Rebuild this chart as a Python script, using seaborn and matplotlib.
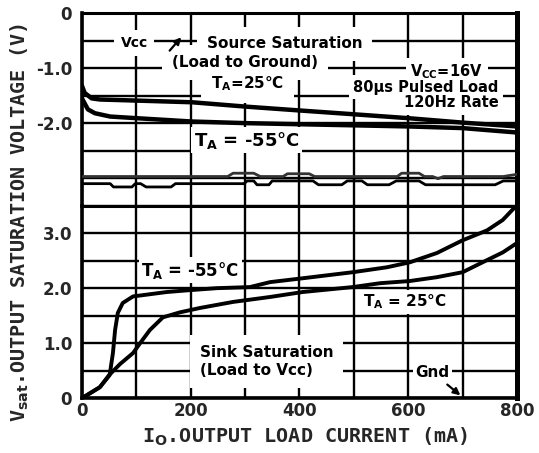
import matplotlib
matplotlib.use("Agg")
import matplotlib.pyplot as plt
import seaborn as sns
import numpy as np

# --------------------------
# data (mA, V)
# --------------------------
# source saturation (load to ground), referenced to Vcc
src_25_ma = [0, 5, 18, 33, 101, 202, 302, 401, 502, 601, 700, 800]
src_25_v = [-1.32, -1.45, -1.55, -1.57, -1.59, -1.62, -1.70, -1.77, -1.84, -1.91, -1.99, -2.06]

src_m55_ma = [0, 11, 24, 52, 101, 202, 302, 401, 502, 601, 700, 800]
src_m55_v = [-1.55, -1.75, -1.82, -1.88, -1.91, -1.97, -2.00, -2.02, -2.04, -2.06, -2.09, -2.17]

# Vcc reference traces
vcc_a_ma = [0, 268, 278, 316, 328, 370, 378, 418, 428, 580, 588, 620, 630, 645, 655, 665, 675, 775, 800]
vcc_a_v = [-2.97, -2.97, -2.91, -2.91, -2.97, -2.97, -2.92, -2.92, -2.97, -2.97, -2.91, -2.91,
           -2.97, -2.97, -3.01, -2.97, -2.97, -2.97, -2.93]

vcc_b_ma = [0, 52, 58, 92, 98, 108, 118, 164, 172, 298, 304, 316, 322, 344, 350, 425, 435,
            478, 488, 515, 525, 565, 578, 620, 632, 760, 775, 800]
vcc_b_v = [-3.10, -3.10, -3.16, -3.16, -3.10, -3.10, -3.16, -3.16, -3.10, -3.10, -3.05, -3.05,
           -3.12, -3.12, -3.05, -3.05, -3.12, -3.12, -3.05, -3.05, -3.12, -3.12, -3.05, -3.05,
           -3.12, -3.12, -3.05, -3.05]

# sink saturation (load to Vcc)
snk_m55_ma = [0, 33, 51, 57, 61, 66, 75, 94, 125, 156, 193, 248, 309, 346, 406, 498, 561, 603,
              653, 700, 745, 774, 800]
snk_m55_v = [0, 0.2, 0.42, 0.82, 1.24, 1.55, 1.73, 1.85, 1.89, 1.93, 1.96, 2.0, 2.02, 2.11,
             2.18, 2.29, 2.38, 2.47, 2.64, 2.87, 3.05, 3.24, 3.51]

snk_25_ma = [0, 33, 50, 70, 94, 107, 125, 149, 180, 217, 278, 346, 406, 498, 548, 603, 653,
             700, 745, 774, 800]
snk_25_v = [0, 0.2, 0.42, 0.62, 0.82, 1.0, 1.24, 1.47, 1.56, 1.64, 1.75, 1.84, 1.93, 2.02,
            2.09, 2.13, 2.2, 2.29, 2.51, 2.65, 2.82]

x_ticks = [0, 100, 200, 300, 400, 500, 600, 700, 800]
x_labels = ["0", "", "200", "", "400", "", "600", "", "800"]
top_ticks = [-3.5, -3.0, -2.5, -2.0, -1.5, -1.0, -0.5, 0]
top_labels = ["", "", "", "-2.0", "", "-1.0", "", "0"]
bot_ticks = [0, 0.5, 1.0, 1.5, 2.0, 2.5, 3.0, 3.5]
bot_labels = ["0", "", "1.0", "", "2.0", "", "3.0", ""]

# --------------------------
# style
# --------------------------
sns.set_style("white")
plt.rcParams["font.family"] = ["DejaVu Sans"]
plt.rcParams["font.weight"] = "bold"
plt.rcParams["mathtext.default"] = "bf"

fig = plt.figure(figsize=(5.39, 4.53), dpi=100)
gs = fig.add_gridspec(2, 1, left=0.152, right=0.959, top=0.971, bottom=0.121, hspace=0)
ax_top = fig.add_subplot(gs[0])
ax_bot = fig.add_subplot(gs[1])

for ax in (ax_top, ax_bot):
    ax.set_xlim(0, 800)
    ax.set_xticks(x_ticks)
    ax.grid(True, color="black", lw=1.7)
    ax.set_axisbelow(True)
    ax.tick_params(length=0, labelsize=12, pad=7)
    for s in ax.spines.values():
        s.set_color("black")
    ax.spines["left"].set_linewidth(2.6)
    ax.spines["right"].set_linewidth(3.6)
    ax.spines["top"].set_linewidth(2.2)
    ax.spines["bottom"].set_linewidth(2.6)
    ax.set_xlabel("")
    ax.set_ylabel("")

ax_top.set_ylim(-3.5, 0)
ax_top.set_yticks(top_ticks)
ax_top.set_yticklabels(top_labels)
ax_top.set_xticklabels([])
ax_top.spines["bottom"].set_visible(False)

ax_bot.set_ylim(0, 3.5)
ax_bot.set_yticks(bot_ticks)
ax_bot.set_yticklabels(bot_labels)
ax_bot.set_xticklabels(x_labels)
ax_bot.tick_params(axis="x", pad=3)

# --------------------------
# curves
# --------------------------
sns.lineplot(x=src_25_ma, y=src_25_v, ax=ax_top, color="black", lw=3.2, zorder=5)
sns.lineplot(x=src_m55_ma, y=src_m55_v, ax=ax_top, color="black", lw=3.2, zorder=5)
sns.lineplot(x=vcc_a_ma, y=vcc_a_v, ax=ax_top, color="#333333", lw=2.0, zorder=5)
sns.lineplot(x=vcc_b_ma, y=vcc_b_v, ax=ax_top, color="black", lw=2.0, zorder=5)

sns.lineplot(x=snk_m55_ma, y=snk_m55_v, ax=ax_bot, color="black", lw=2.8, zorder=5)
sns.lineplot(x=snk_25_ma, y=snk_25_v, ax=ax_bot, color="black", lw=2.8, zorder=5)


# --------------------------
# annotations: a white masked copy under each label hides the grid,
# the real text goes on top so boxes never clip neighbouring labels
# --------------------------
def label(ax, x, y, s, size=11, pad=0.15, **kw):
    ax.text(x, y, s, fontsize=size, color="white", zorder=2.5,
            bbox=dict(boxstyle=f"square,pad={pad}", fc="white", ec="none"), **kw)
    ax.text(x, y, s, fontsize=size, color="black", zorder=3, **kw)


c = dict(ha="center", va="center")
label(ax_top, 96, -0.54, "Vcc", size=10, pad=0.45, **c)
ax_top.annotate("", xy=(186, -0.40), xytext=(158, -0.72),
                arrowprops=dict(arrowstyle="-|>", color="black", lw=1.6), zorder=3.5)
label(ax_top, 373, -0.56, "Source Saturation", pad=0.65, **c)
label(ax_top, 300, -0.90, "(Load to Ground)", pad=0.65, **c)
label(ax_top, 305, -1.28, "T$_A$=25°C", pad=0.65, **c)
label(ax_top, 671, -1.06, "V$_{CC}$=16V", size=10.5, pad=0.3, **c)
label(ax_top, 633, -1.345, "80µs Pulsed Load", size=10.5, pad=0.3, **c)
label(ax_top, 679, -1.63, "120Hz Rate", size=10.5, pad=0.3, **c)
label(ax_top, 303, -2.31, "T$_A$ = -55°C", size=13, **c)

label(ax_bot, 199, 2.33, "T$_A$ = -55°C", size=12, **c)
label(ax_bot, 594, 1.75, "T$_A$ = 25°C", **c)
label(ax_bot, 217, 0.67, "Sink Saturation\n(Load to Vcc)", pad=0.65, ha="left", va="center",
      multialignment="left", linespacing=1.25)
label(ax_bot, 645, 0.47, "Gnd", **c)
ax_bot.annotate("", xy=(700, 0.02), xytext=(668, 0.28),
                arrowprops=dict(arrowstyle="-|>", color="black", lw=1.6), zorder=3.5)

fig.text(0.037, 0.51, "V$_{sat}$.OUTPUT SATURATION VOLTAGE (V)", rotation=90,
         ha="center", va="center", fontsize=14.5, family=["DejaVu Sans Mono"])
fig.text(0.566, 0.035, "I$_O$.OUTPUT LOAD CURRENT (mA)",
         ha="center", va="center", fontsize=14.5, family=["DejaVu Sans Mono"])

plt.savefig("out.png", dpi=100)
